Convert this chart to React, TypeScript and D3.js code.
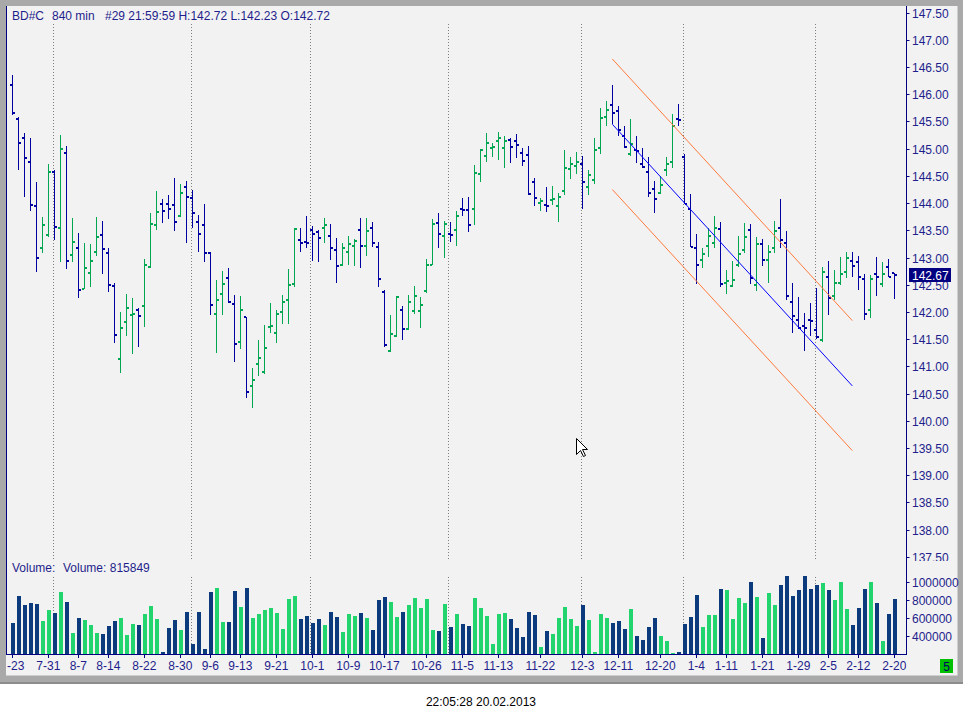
import * as d3 from "d3";

// OHLC bars, 840 min, BD#C
const opens = [
  146.18, 145.55, 145.19, 144.75, 143.94, 143.17, 143.41, 144.58, 143.54, 144.93,
  143.04, 143.17, 142.43, 142.71, 143.11, 143.41, 143.08, 142.47, 141.13, 141.81,
  141.94, 142.03, 142.10, 142.82, 143.59, 143.98, 143.98, 143.96, 143.76, 144.29,
  144.09, 143.65, 143.59, 143.09, 141.97, 142.32, 142.62, 142.14, 141.44, 141.90,
  140.63, 141.04, 140.89, 141.72, 141.62, 141.99, 142.21, 142.51, 143.32, 143.28,
  143.50, 143.46, 143.55, 143.39, 143.13, 142.87, 143.10, 143.21, 143.50, 143.22,
  143.55, 143.19, 142.36, 141.29, 141.55, 142.03, 141.68, 142.01, 142.01, 142.38,
  142.87, 143.63, 143.39, 143.43, 143.50, 143.89, 143.87, 143.89, 144.53, 144.86,
  145.01, 145.14, 145.01, 145.16, 145.14, 144.93, 144.88, 144.38, 144.00, 143.96,
  144.05, 143.94, 144.22, 144.62, 144.69, 144.71, 144.29, 144.42, 145.02, 145.58,
  145.80, 145.69, 145.23, 144.90, 144.97, 144.71, 144.57, 144.25, 144.18, 144.60,
  144.76, 145.55, 144.84, 143.90, 143.17, 142.95, 143.21, 143.26, 143.52, 142.54,
  142.47, 142.86, 143.13, 143.50, 142.49, 143.24, 142.95, 143.17, 143.54, 143.26,
  142.19, 141.86, 141.74, 141.86, 141.66, 141.48, 142.64, 142.29, 142.53, 142.73,
  142.93, 142.91, 142.60, 142.03, 142.69, 142.51, 142.82, 142.72,
];
const highs = [
  146.36, 145.59, 145.28, 145.19, 144.39, 143.74, 144.72, 144.61, 145.25, 145.05,
  143.73, 143.45, 143.27, 143.25, 143.74, 143.67, 143.18, 142.53, 141.99, 142.32,
  142.26, 142.07, 142.97, 143.82, 144.22, 144.08, 144.15, 144.46, 144.35, 144.41,
  144.24, 143.78, 143.98, 143.11, 142.59, 142.75, 142.81, 142.31, 142.29, 141.91,
  140.97, 141.48, 141.76, 142.16, 142.03, 142.31, 142.78, 143.54, 143.54, 143.76,
  143.57, 143.51, 143.73, 143.62, 143.36, 143.27, 143.40, 143.34, 143.73, 143.73,
  143.65, 143.28, 142.40, 141.94, 142.29, 142.11, 142.31, 142.48, 142.27, 142.97,
  143.71, 143.82, 143.67, 143.66, 143.85, 144.09, 144.11, 144.70, 144.99, 145.29,
  145.10, 145.31, 145.23, 145.19, 145.27, 145.02, 145.05, 144.47, 144.09, 144.30,
  144.31, 144.19, 144.98, 144.85, 144.94, 144.87, 144.60, 145.20, 145.75, 145.88,
  146.17, 145.78, 145.42, 145.55, 145.23, 145.01, 144.84, 144.41, 144.50, 144.84,
  145.63, 145.82, 144.90, 144.16, 143.43, 143.18, 143.54, 143.76, 143.66, 142.77,
  142.94, 143.40, 143.63, 143.62, 143.38, 143.34, 143.23, 143.67, 144.08, 143.49,
  142.53, 142.27, 141.98, 142.16, 142.44, 142.82, 142.94, 142.77, 143.01, 143.10,
  143.10, 143.03, 142.70, 142.68, 143.01, 142.92, 142.97, 142.72,
];
const lows = [
  145.62, 144.61, 144.12, 143.86, 142.74, 143.09, 143.38, 143.33, 142.92, 142.78,
  142.91, 142.26, 142.42, 142.45, 143.03, 142.70, 142.37, 141.42, 140.87, 141.55,
  141.23, 141.36, 141.73, 142.80, 143.51, 143.64, 143.71, 143.49, 143.74, 143.27,
  143.55, 143.11, 142.92, 141.95, 141.25, 141.95, 142.16, 141.07, 141.31, 140.42,
  140.24, 140.83, 140.85, 141.61, 141.42, 141.77, 141.78, 142.45, 143.11, 143.18,
  142.94, 142.92, 143.27, 142.96, 142.54, 142.85, 142.87, 142.85, 142.81, 143.03,
  143.20, 142.45, 141.36, 141.27, 141.53, 141.49, 141.66, 141.96, 141.71, 142.34,
  142.86, 143.18, 143.00, 143.28, 143.22, 143.77, 143.47, 143.60, 144.39, 144.76,
  144.85, 144.80, 144.65, 144.74, 144.83, 144.69, 144.14, 143.95, 143.86, 143.84,
  143.96, 143.66, 144.14, 144.45, 144.54, 143.89, 144.15, 144.36, 144.91, 145.42,
  145.45, 145.24, 145.02, 144.87, 144.74, 144.64, 144.12, 143.81, 144.16, 144.49,
  144.64, 145.42, 143.99, 143.20, 142.52, 142.80, 143.01, 143.17, 142.45, 142.32,
  142.45, 142.82, 143.08, 142.51, 142.39, 142.84, 142.54, 143.08, 143.18, 142.21,
  141.62, 141.68, 141.29, 141.55, 141.51, 141.45, 141.94, 142.21, 142.49, 142.63,
  142.64, 142.41, 141.85, 141.88, 142.29, 142.46, 142.64, 142.23,
];
const closes = [
  145.65, 145.10, 144.82, 143.96, 142.99, 143.59, 144.58, 143.56, 144.99, 142.93,
  143.28, 142.40, 142.80, 142.93, 143.37, 143.15, 142.49, 141.57, 141.70, 142.08,
  141.97, 141.92, 142.86, 143.61, 143.83, 143.85, 143.89, 143.66, 144.18, 144.11,
  143.81, 143.44, 143.08, 142.12, 142.21, 142.51, 142.18, 141.41, 142.03, 140.52,
  140.74, 141.16, 141.33, 141.75, 141.96, 142.18, 142.49, 143.52, 143.26, 143.26,
  143.43, 143.35, 143.59, 143.17, 142.84, 143.17, 143.24, 143.30, 143.22, 143.48,
  143.26, 142.60, 141.39, 141.59, 142.27, 141.68, 142.18, 142.30, 142.12, 142.86,
  143.61, 143.43, 143.61, 143.42, 143.76, 143.87, 143.59, 144.55, 144.97, 145.10,
  145.03, 145.19, 145.14, 145.04, 145.06, 144.77, 144.16, 144.09, 144.03, 143.94,
  144.07, 144.11, 144.64, 144.71, 144.75, 144.38, 144.51, 144.97, 145.56, 145.72,
  145.65, 145.34, 145.04, 145.08, 144.96, 144.66, 144.19, 144.08, 144.33, 144.71,
  145.41, 145.52, 143.99, 143.20, 142.87, 143.06, 143.39, 143.55, 142.51, 142.56,
  142.58, 143.06, 143.37, 142.62, 143.24, 142.95, 143.10, 143.48, 143.33, 142.29,
  141.92, 141.70, 141.70, 141.83, 141.53, 142.73, 142.26, 142.54, 142.69, 142.99,
  142.84, 142.65, 141.96, 142.60, 142.64, 142.69, 142.65, 142.67,
];
const volumes = [
  552000, 852000, 752000, 770000, 763000, 574000, 696000, 663000, 896000, 785000,
  441000, 607000, 585000, 530000, 441000, 430000, 519000, 574000, 607000, 419000,
  541000, 530000, 652000, 741000, 596000, 230000, 496000, 585000, 474000, 674000,
  319000, 674000, 263000, 896000, 941000, 563000, 563000, 907000, 730000, 941000,
  607000, 652000, 696000, 719000, 663000, 485000, 819000, 852000, 596000, 630000,
  552000, 596000, 530000, 674000, 619000, 452000, 652000, 630000, 663000, 607000,
  474000, 807000, 841000, 785000, 619000, 674000, 752000, 830000, 719000, 819000,
  474000, 463000, 763000, 507000, 652000, 541000, 519000, 830000, 719000, 630000,
  319000, 652000, 663000, 596000, 496000, 396000, 674000, 641000, 285000, 463000,
  430000, 607000, 730000, 596000, 519000, 752000, 585000, 230000, 652000, 607000,
  552000, 574000, 485000, 707000, 407000, 363000, 507000, 607000, 407000, 352000,
  219000, 230000, 541000, 619000, 863000, 507000, 641000, 641000, 930000, 919000,
  596000, 830000, 774000, 1007000, 841000, 385000, 885000, 752000, 974000, 1074000,
  852000, 919000, 1074000, 930000, 974000, 996000, 919000, 807000, 1007000, 707000,
  530000, 719000, 930000, 1007000, 774000, 352000, 652000, 815849,
];

const tickIdx = [0, 6, 11, 16, 22, 28, 33, 38, 44, 50, 56, 62, 69, 75, 81, 88, 95, 101, 108, 114, 119, 125, 131, 136, 141, 147];
const tickLabels = ["7-23", "7-31", "8-7", "8-14", "8-22", "8-30", "9-6", "9-13", "9-21", "10-1", "10-9", "10-17", "10-26", "11-5", "11-13", "11-22", "12-3", "12-11", "12-20", "1-4", "1-11", "1-21", "1-29", "2-5", "2-12", "2-20"];
const monthStarts = [7, 30, 50, 73, 95, 112, 134];
const priceTicks = d3.range(137.5, 147.51, 0.5);
const volumeTicks = [400000, 600000, 800000, 1000000];

// trend channel drawn by hand on the chart
const channelIdx = [100, 140];
const channelUpper = [146.65, 141.84];
const channelMid = [145.45, 140.64];
const channelLower = [144.25, 139.45];

const lastPrice = 142.67;

const FONT = "'Liberation Sans', Arial, sans-serif";
const NAVY = "#1e1e8c";
const UP = "#00a651";
const DOWN = "#0000a0";
const VOL_UP = "#22d46e";
const VOL_DOWN = "#0b3b7c";
const ORANGE = "#ff7a3c";

const App = () => {
  const width = 963;
  const height = 718;
  const plotLeft = 6.5;
  const axisX = 906.5;

  const xScale = d3.scaleLinear().domain([0, closes.length - 1]).range([12.3, 894.3]);
  const yScale = d3.scaleLinear().domain([137.5, 147.5]).range([556.7, 12.7]);
  const vScale = d3.scaleLinear().domain([200000, 1000000]).range([654.3, 582.3]);

  const channelLine = (vals) =>
    d3.line()
      .x((d, i) => xScale(channelIdx[i]))
      .y((d) => yScale(d))(vals);

  return (
    <div style={{ position: "absolute", left: 0, top: 0 }}>
      <svg width={width} height={height} style={{ display: "block" }}>
        <defs>
          <clipPath id="priceClip">
            <rect x={7} y={6} width={axisX - 7} height={555} />
          </clipPath>
          <clipPath id="axisClip">
            <rect x={7} y={6} width={960} height={555} />
          </clipPath>
          <clipPath id="xlabClip">
            <rect x={7} y={655} width={axisX - 7} height={20} />
          </clipPath>
        </defs>
        <rect x={0} y={0} width={width} height={height} fill="#ffffff" />
        {/* window frame */}
        <rect x={0} y={0} width={width} height={684} fill="#a9a9a9" />
        <rect x={0} y={682} width={width} height={2} fill="#8c8c8c" />
        <rect x={6} y={6} width={951.5} height={669.5} fill="#f2f2f2" />

        {/* month separators */}
        {monthStarts.map((m) => {
          const gx = Math.round(xScale(m) - 1.8) + 0.5;
          return (
            <g key={`m-${m}`} stroke="#808080" strokeWidth={1} strokeDasharray="1,2">
              <line x1={gx} x2={gx} y1={24} y2={560} />
              <line x1={gx} x2={gx} y1={577} y2={654} />
            </g>
          );
        })}

        {/* header */}
        <g fontFamily={FONT} fontSize={12} fill={NAVY}>
          <text x={12} y={20}>BD#C</text>
          <text x={52} y={20}>840 min</text>
          <text x={105} y={20}>#29 21:59:59 H:142.72 L:142.23 O:142.72</text>
        </g>

        {/* price bars */}
        <g clipPath="url(#priceClip)" shapeRendering="crispEdges">
          {closes.map((c, i) => {
            const x = Math.round(xScale(i));
            const col = c >= opens[i] ? UP : DOWN;
            const yH = Math.round(yScale(highs[i]));
            const yL = Math.round(yScale(lows[i]));
            return (
              <g key={`b-${i}`} fill={col}>
                <rect x={x} y={yH} width={1} height={Math.max(1, yL - yH)} />
                <rect x={x - 2} y={Math.round(yScale(opens[i])) - 1} width={2} height={2} />
                <rect x={x + 1} y={Math.round(yScale(c)) - 1} width={2} height={2} />
              </g>
            );
          })}
          <path d={channelLine(channelUpper)} stroke={ORANGE} strokeWidth={1} fill="none" shapeRendering="auto" />
          <path d={channelLine(channelMid)} stroke="#0000ff" strokeWidth={1} fill="none" shapeRendering="auto" />
          <path d={channelLine(channelLower)} stroke={ORANGE} strokeWidth={1} fill="none" shapeRendering="auto" />
        </g>

        {/* volume */}
        <text x={12} y={572} fontFamily={FONT} fontSize={12} fill={NAVY}>Volume:</text>
        <text x={63} y={572} fontFamily={FONT} fontSize={12} fill={NAVY}>
          Volume: {volumes[volumes.length - 1]}
        </text>
        <g shapeRendering="crispEdges">
          {volumes.map((v, i) => {
            const x = Math.round(xScale(i)) - 1;
            const top = Math.round(vScale(v));
            return (
              <rect
                key={`v-${i}`}
                x={x}
                y={top}
                width={4}
                height={Math.max(1, 654 - top)}
                fill={closes[i] >= opens[i] ? VOL_UP : VOL_DOWN}
              />
            );
          })}
        </g>

        {/* axes lines */}
        <g stroke="#000080" strokeWidth={1.3} shapeRendering="crispEdges">
          <line x1={plotLeft} x2={plotLeft} y1={6} y2={655} />
          <line x1={axisX} x2={axisX} y1={6} y2={655} />
          <line x1={plotLeft} x2={axisX} y1={654.5} y2={654.5} />
        </g>

        {/* price axis */}
        <g clipPath="url(#axisClip)" fontFamily={FONT} fontSize={12} fill={NAVY}>
          {priceTicks.map((p) => {
            const y = Math.round(yScale(p)) + 0.5;
            return (
              <g key={`p-${p}`}>
                <line x1={axisX} x2={axisX + 3} y1={y} y2={y} stroke="#000080" />
                <text x={912} y={y + 4.5}>{p.toFixed(2)}</text>
              </g>
            );
          })}
        </g>
        <rect x={909} y={Math.round(yScale(lastPrice)) - 7} width={42} height={14} fill="#000080" />
        <text x={912} y={Math.round(yScale(lastPrice)) + 4.5} fontFamily={FONT} fontSize={12} fill="#ffffff">
          {lastPrice.toFixed(2)}
        </text>

        {/* volume axis */}
        <g fontFamily={FONT} fontSize={12} fill={NAVY}>
          {volumeTicks.map((v) => {
            const y = Math.round(vScale(v)) + 0.5;
            return (
              <g key={`vt-${v}`}>
                <line x1={axisX} x2={axisX + 3} y1={y} y2={y} stroke="#000080" />
                <text x={912} y={y + 4.5}>{v}</text>
              </g>
            );
          })}
        </g>

        {/* date axis */}
        <g fontFamily={FONT} fontSize={12} fill={NAVY}>
          {tickIdx.map((t) => {
            const x = Math.round(xScale(t)) + 0.5;
            return <line key={`xt-${t}`} x1={x} x2={x} y1={654} y2={658} stroke="#000080" />;
          })}
          <g clipPath="url(#xlabClip)">
            {tickIdx.map((t, k) => (
              <text key={`xl-${t}`} x={xScale(t)} y={670} textAnchor="middle">
                {tickLabels[k]}
              </text>
            ))}
          </g>
        </g>

        {/* bars-back indicator */}
        <rect x={940} y={659} width={13} height={14} fill="#00c000" />
        <text x={946.5} y={670.5} fontFamily={FONT} fontSize={12} fill="#000060" textAnchor="middle">5</text>

        {/* mouse pointer */}
        <path
          d="M0,0 L0,16 L4,12 L7,18 L9,17 L6,11 L11,11 Z"
          transform="translate(576.5,438.5)"
          fill="#ffffff"
          stroke="#000000"
          strokeWidth={1}
        />

        <text x={481} y={706} fontFamily={FONT} fontSize={12} fill="#000000" textAnchor="middle">
          22:05:28 20.02.2013
        </text>
      </svg>
    </div>
  );
};

export default App;
